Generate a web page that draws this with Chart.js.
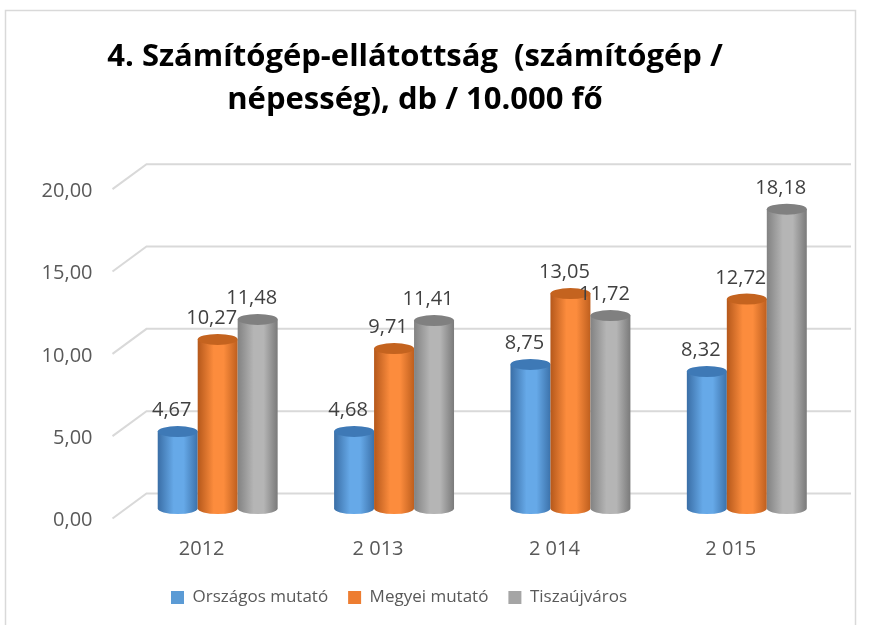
<!DOCTYPE html>
<html>
<head>
<meta charset="utf-8">
<script src="https://cdn.jsdelivr.net/npm/chart.js@4.4.1/dist/chart.umd.min.js"></script>
<style>
  html, body { margin: 0; padding: 0; background: #fff; }
  #wrap { width: 887px; height: 625px; }
</style>
</head>
<body>
<div id="wrap"><canvas id="computerChart"></canvas></div>
<script>
const years = ['2012', '2 013', '2 014', '2 015'];
const orszagos = [4.67, 4.68, 8.75, 8.32];
const megyei = [10.27, 9.71, 13.05, 12.72];
const tiszaujvaros = [11.48, 11.41, 11.72, 18.18];
const yTicks = [0, 5, 10, 15, 20];
const titleLines = ['4. Számítógép-ellátottság  (számítógép /', 'népesség), db / 10.000 fő'];

const font = '"Open Sans", sans-serif';

const fmt = v => v.toFixed(2).replace('.', ',');

// cylinder shading, one per dataset
const shades = [
    { left: '#3a6ea6', mid: '#66a9e8', right: '#3c72ab', top: '#3e79b6' },
    { left: '#b5581b', mid: '#fc8c3d', right: '#bf5f1e', top: '#c4631f' },
    { left: '#828282', mid: '#b5b5b5', right: '#7a7a7a', top: '#808080' }
];

const frame = {
    id: 'frame',
    beforeDraw(chart) {
        const ctx = chart.ctx;
        ctx.save();
        ctx.fillStyle = '#fff';
        ctx.fillRect(0, 0, chart.width, chart.height);
        ctx.strokeStyle = '#d9d9d9';
        ctx.lineWidth = 1.5;
        ctx.strokeRect(5.5, 10.5, 850, 630);
        ctx.restore();
    },
    afterLayout(chart) {
        // legend and title sit a bit left of the plot centre in the original
        if (!chart.legend._moved) {
            chart.legend.left -= 21;
            chart.legend.right -= 21;
            chart.legend._moved = true;
        }
        if (!chart.titleBlock._moved) {
            chart.titleBlock.left -= 5;
            chart.titleBlock.right -= 5;
            chart.titleBlock._moved = true;
        }
    }
};

const cylinders = {
    id: 'cylinders',
    beforeDatasetsDraw(chart) {
        const { ctx, chartArea } = chart;
        const y = chart.scales.y;
        ctx.save();
        ctx.strokeStyle = '#d9d9d9';
        ctx.lineWidth = 2;
        yTicks.forEach(v => {
            const p = y.getPixelForValue(v);
            ctx.beginPath();
            ctx.moveTo(chartArea.left - 17, p + 10);
            ctx.lineTo(chartArea.left + 17, p - 15);
            ctx.lineTo(chartArea.right + 16, p - 15);
            ctx.stroke();
        });
        ctx.restore();
    },
    beforeDatasetDraw() {
        return false;
    },
    afterDatasetsDraw(chart) {
        const ctx = chart.ctx;
        ctx.save();
        chart.data.datasets.forEach((ds, di) => {
            const s = shades[di];
            chart.getDatasetMeta(di).data.forEach((el, i) => {
                const { x, y, base, width } = el.getProps(['x', 'y', 'base', 'width'], true);
                const r = width / 2;
                const ry = 5.5;
                const x0 = x - r, x1 = x + r;
                const g = ctx.createLinearGradient(x0, 0, x1, 0);
                g.addColorStop(0, s.left);
                g.addColorStop(0.4, s.mid);
                g.addColorStop(0.65, s.mid);
                g.addColorStop(1, s.right);
                ctx.fillStyle = g;
                ctx.beginPath();
                ctx.moveTo(x0, y);
                ctx.lineTo(x0, base);
                ctx.ellipse(x, base, r, ry, 0, Math.PI, 0, true);
                ctx.lineTo(x1, y);
                ctx.closePath();
                ctx.fill();

                ctx.fillStyle = s.top;
                ctx.beginPath();
                ctx.ellipse(x, y, r, ry, 0, 0, Math.PI * 2);
                ctx.fill();

                ctx.fillStyle = '#404040';
                ctx.font = '20px ' + font;
                ctx.textAlign = 'center';
                ctx.textBaseline = 'middle';
                ctx.fillText(fmt(ds.data[i]), x - 6, y - 21);
            });
        });
        ctx.restore();
    }
};

new Chart(document.getElementById('computerChart'), {
    type: 'bar',
    data: {
        labels: years,
        datasets: [
            { label: 'Országos mutató', data: orszagos, backgroundColor: '#5b9bd5' },
            { label: 'Megyei mutató', data: megyei, backgroundColor: '#ed7d31' },
            { label: 'Tiszaújváros', data: tiszaujvaros, backgroundColor: '#a5a5a5' }
        ]
    },
    options: {
        responsive: true,
        maintainAspectRatio: false,
        animation: false,
        layout: {
            padding: { left: 5, right: 52, top: 10, bottom: 9 }
        },
        datasets: {
            bar: {
                categoryPercentage: 0.68,
                barPercentage: 1.0
            }
        },
        plugins: {
            title: {
                display: true,
                text: titleLines,
                color: '#000',
                font: { family: font, size: 31, weight: 'bold', lineHeight: 1.39 },
                padding: { top: 26, bottom: 57 }
            },
            legend: {
                position: 'bottom',
                labels: {
                    boxWidth: 13,
                    boxHeight: 13,
                    padding: 20,
                    color: '#595959',
                    font: { family: font, size: 17 }
                }
            },
            tooltip: {
                enabled: false
            }
        },
        scales: {
            x: {
                grid: { display: false },
                border: { display: false },
                ticks: {
                    color: '#595959',
                    font: { family: font, size: 20 },
                    padding: 21,
                    labelOffset: -16
                },
                afterFit(scale) {
                    scale.height = 60.5;
                }
            },
            y: {
                min: 0,
                max: 20,
                grid: { display: false, drawTicks: false },
                border: { display: false },
                ticks: {
                    stepSize: 5,
                    color: '#595959',
                    font: { family: font, size: 20 },
                    padding: 37,
                    labelOffset: 12,
                    callback: v => fmt(v)
                },
                afterFit(scale) {
                    scale.width = 124.5;
                }
            }
        }
    },
    plugins: [frame, cylinders]
});
</script>
</body>
</html>
